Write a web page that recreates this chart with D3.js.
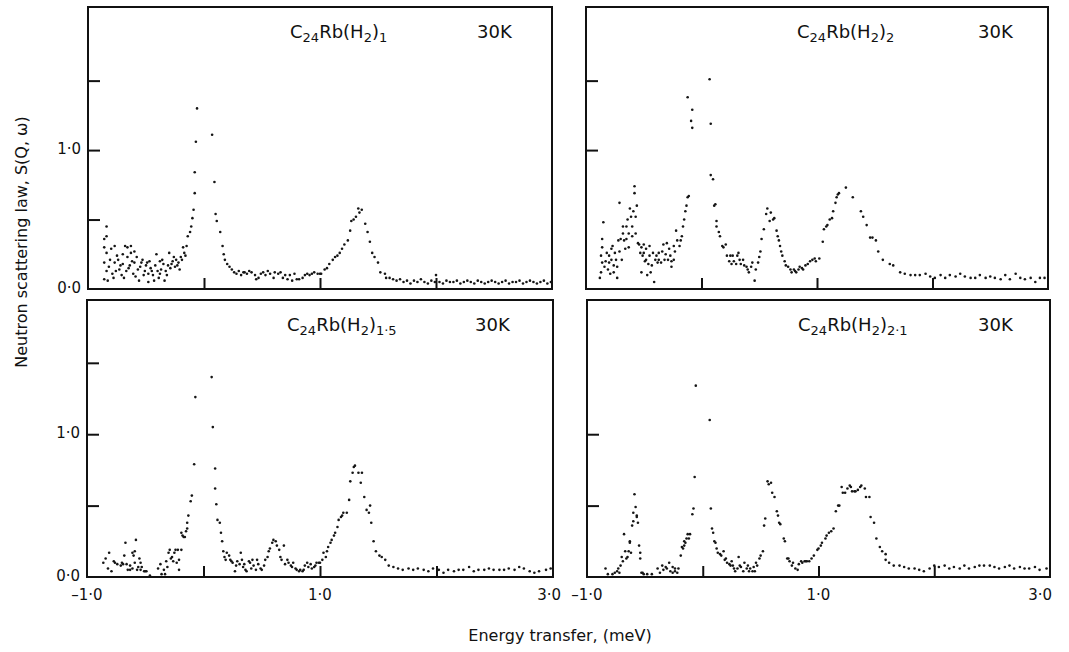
<!DOCTYPE html>
<meta charset="utf-8">
<style>
body { margin: 0; background: #fff; }
svg { display: block; font-family: "DejaVu Sans", "Liberation Sans", sans-serif; }
.frame { fill: none; stroke: #111; stroke-width: 2; }
.tick line { stroke: #111; stroke-width: 2; }
.domain { display: none; }
.dot { fill: #151515; }
.lab { font-size: 18px; fill: #111; }
.num { font-size: 15px; fill: #111; }
.title { font-size: 16px; fill: #111; }
</style>
<body>
<script src="https://d3js.org/d3.v7.min.js"></script>
<script>

// energy transfer (meV), S(Q,w)
var rb1 = [
 [-0.84,0.45],[-0.84,0.38],[-0.86,0.36],[-0.86,0.30],[-0.84,0.26],[-0.86,0.19],[-0.84,0.13],[-0.86,0.07],[-0.83,0.06],
 [-0.80,0.29],[-0.77,0.31],[-0.77,0.19],[-0.76,0.13],[-0.74,0.21],[-0.73,0.14],[-0.71,0.10],[-0.70,0.25],[-0.68,0.31],
 [-0.70,0.18],[-0.67,0.13],[-0.66,0.23],[-0.64,0.17],[-0.63,0.31],[-0.63,0.26],[-0.61,0.11],[-0.60,0.19],[-0.58,0.23],
 [-0.57,0.14],[-0.56,0.06],[-0.54,0.19],[-0.53,0.21],[-0.51,0.13],[-0.50,0.17],[-0.48,0.11],[-0.47,0.20],[-0.45,0.13],
 [-0.44,0.10],[-0.43,0.06],[-0.41,0.25],[-0.40,0.13],[-0.38,0.11],[-0.37,0.14],[-0.35,0.18],[-0.34,0.06],[-0.33,0.13],
 [-0.31,0.17],[-0.30,0.26],[-0.28,0.18],[-0.27,0.20],[-0.25,0.16],[-0.24,0.21],[-0.22,0.19],[-0.21,0.14],[-0.20,0.23],
 [-0.18,0.30],[-0.17,0.26],[-0.15,0.31],[-0.82,0.16],[-0.79,0.11],[-0.75,0.24],[-0.72,0.17],[-0.69,0.08],[-0.65,0.15],
 [-0.62,0.20],[-0.59,0.09],[-0.55,0.16],[-0.52,0.10],[-0.49,0.19],[-0.46,0.15],[-0.42,0.17],[-0.39,0.08],[-0.36,0.21],
 [-0.32,0.10],[-0.29,0.15],[-0.26,0.23],[-0.23,0.17],[-0.19,0.21],[-0.16,0.24],[-0.81,0.21],[-0.78,0.08],[-0.66,0.30],
 [-0.60,0.27],[-0.48,0.05],[-0.38,0.20],
 [-0.14,0.38],[-0.12,0.41],[-0.11,0.45],[-0.10,0.51],[-0.09,0.57],[-0.08,0.69],[-0.08,0.84],[-0.07,1.06],[-0.06,1.30],
 [0.07,1.11],[0.09,0.77],[0.10,0.54],[0.11,0.49],[0.14,0.41],[0.16,0.31],[0.17,0.25],[0.18,0.21],[0.20,0.18],[0.22,0.16],
 [0.24,0.14],[0.26,0.12],[0.28,0.11],[0.30,0.13],[0.32,0.10],[0.34,0.12],[0.35,0.12],[0.37,0.11],[0.39,0.13],[0.41,0.12],
 [0.44,0.10],[0.45,0.07],[0.47,0.08],[0.49,0.11],[0.51,0.12],[0.53,0.10],[0.55,0.13],[0.57,0.11],[0.60,0.08],[0.61,0.12],
 [0.64,0.11],[0.66,0.12],[0.68,0.08],[0.70,0.10],[0.72,0.07],[0.74,0.10],[0.76,0.06],[0.78,0.11],[0.80,0.07],[0.82,0.07],
 [0.85,0.08],[0.87,0.10],[0.89,0.11],[0.91,0.10],[0.93,0.11],[0.95,0.12],[0.98,0.11],[1.00,0.11],[1.01,0.11],[1.04,0.14],
 [1.06,0.15],[1.08,0.18],[1.11,0.21],[1.13,0.23],[1.15,0.24],[1.17,0.26],[1.19,0.29],[1.21,0.32],[1.24,0.35],[1.26,0.42],
 [1.27,0.49],[1.29,0.50],[1.31,0.52],[1.33,0.58],[1.34,0.55],[1.36,0.57],[1.39,0.47],[1.41,0.41],[1.43,0.34],[1.45,0.26],
 [1.47,0.23],[1.50,0.19],[1.52,0.12],[1.56,0.11],[1.57,0.08],[1.60,0.08],[1.63,0.07],[1.66,0.06],[1.69,0.07],
 [1.72,0.05],[1.75,0.06],[1.78,0.04],[1.81,0.06],[1.84,0.05],[1.87,0.07],[1.90,0.05],[1.93,0.04],[1.96,0.06],[1.99,0.05],
 [2.00,0.10],[2.03,0.05],[2.06,0.04],[2.09,0.06],[2.12,0.05],[2.15,0.05],[2.18,0.06],[2.21,0.04],[2.24,0.05],[2.27,0.06],
 [2.30,0.05],[2.33,0.04],[2.36,0.06],[2.39,0.05],[2.42,0.04],[2.45,0.05],[2.48,0.06],[2.51,0.05],[2.54,0.04],[2.57,0.05],
 [2.60,0.06],[2.63,0.04],[2.66,0.05],[2.69,0.05],[2.72,0.06],[2.75,0.04],[2.78,0.05],[2.81,0.06],[2.84,0.05],[2.87,0.04],
 [2.90,0.05],[2.93,0.06],[2.96,0.04],[2.99,0.05]
];

var rb2 = [
 [-0.88,0.08],[-0.87,0.12],[-0.86,0.19],[-0.87,0.24],[-0.86,0.30],[-0.86,0.36],[-0.85,0.48],[-0.84,0.16],[-0.83,0.20],
 [-0.82,0.26],[-0.81,0.14],[-0.80,0.19],[-0.80,0.24],[-0.79,0.11],[-0.78,0.29],[-0.78,0.21],[-0.77,0.31],[-0.76,0.17],
 [-0.76,0.12],[-0.75,0.26],[-0.74,0.21],[-0.73,0.16],[-0.73,0.08],[-0.72,0.35],[-0.71,0.62],[-0.71,0.27],[-0.70,0.36],
 [-0.69,0.21],[-0.68,0.40],[-0.68,0.45],[-0.67,0.35],[-0.66,0.29],[-0.65,0.45],[-0.65,0.36],[-0.64,0.50],[-0.63,0.30],
 [-0.63,0.40],[-0.62,0.58],[-0.61,0.52],[-0.60,0.38],[-0.60,0.45],[-0.59,0.56],[-0.58,0.69],[-0.58,0.74],[-0.57,0.52],
 [-0.57,0.40],[-0.56,0.60],[-0.55,0.33],[-0.54,0.32],[-0.53,0.26],[-0.52,0.12],[-0.52,0.30],[-0.51,0.24],[-0.50,0.32],
 [-0.50,0.26],[-0.49,0.20],[-0.48,0.21],[-0.48,0.29],[-0.47,0.10],[-0.46,0.18],[-0.45,0.31],[-0.45,0.24],[-0.44,0.12],
 [-0.43,0.17],[-0.42,0.26],[-0.41,0.05],[-0.40,0.21],[-0.39,0.24],[-0.38,0.19],[-0.37,0.21],[-0.37,0.26],[-0.35,0.19],
 [-0.34,0.27],[-0.33,0.32],[-0.32,0.21],[-0.31,0.25],[-0.30,0.33],[-0.29,0.21],[-0.28,0.29],[-0.27,0.24],[-0.26,0.20],
 [-0.26,0.16],[-0.24,0.31],[-0.24,0.21],[-0.23,0.27],[-0.22,0.42],[-0.21,0.35],[-0.19,0.31],[-0.18,0.35],[-0.17,0.38],
 [-0.16,0.45],[-0.15,0.50],[-0.14,0.56],[-0.13,0.60],[-0.12,0.66],[-0.11,0.67],
 [-0.12,1.38],[-0.09,1.21],[-0.08,1.16],[-0.08,1.29],[0.07,1.51],[0.08,1.19],[0.08,0.82],[0.10,0.79],[0.11,0.60],
 [0.12,0.61],[0.13,0.49],[0.13,0.45],[0.15,0.41],[0.16,0.38],[0.18,0.31],[0.19,0.30],[0.21,0.32],[0.22,0.24],[0.24,0.20],
 [0.25,0.24],[0.26,0.18],[0.27,0.24],[0.28,0.20],[0.30,0.18],[0.31,0.24],[0.32,0.26],[0.33,0.21],[0.34,0.18],[0.36,0.21],
 [0.37,0.17],[0.39,0.16],[0.40,0.14],[0.41,0.12],[0.43,0.16],[0.44,0.19],[0.46,0.06],[0.47,0.14],[0.49,0.19],[0.50,0.23],
 [0.51,0.27],[0.52,0.36],[0.54,0.43],[0.56,0.54],[0.57,0.58],[0.59,0.49],[0.60,0.55],[0.62,0.50],[0.63,0.51],[0.65,0.42],
 [0.66,0.38],[0.67,0.35],[0.68,0.31],[0.69,0.27],[0.70,0.24],[0.72,0.20],[0.73,0.17],[0.75,0.16],[0.77,0.14],[0.78,0.12],
 [0.80,0.14],[0.81,0.13],[0.82,0.12],[0.84,0.14],[0.85,0.16],[0.87,0.15],[0.88,0.14],[0.90,0.17],[0.92,0.18],[0.94,0.20],
 [0.96,0.21],[0.98,0.22],[0.99,0.20],[1.02,0.22],[1.05,0.34],[1.06,0.43],[1.08,0.45],[1.09,0.46],[1.11,0.50],[1.13,0.51],
 [1.14,0.56],[1.16,0.62],[1.17,0.66],[1.18,0.68],[1.19,0.69],[1.25,0.73],[1.31,0.66],[1.38,0.56],[1.40,0.52],[1.43,0.46],
 [1.46,0.37],[1.48,0.37],[1.51,0.35],[1.53,0.27],[1.57,0.21],[1.63,0.18],[1.66,0.17],[1.72,0.12],[1.76,0.11],[1.81,0.10],
 [1.85,0.10],[1.89,0.10],[1.94,0.11],[1.98,0.09],[2.02,0.08],[2.07,0.10],[2.11,0.08],[2.15,0.10],[2.20,0.09],[2.24,0.11],
 [2.28,0.09],[2.33,0.08],[2.37,0.08],[2.41,0.10],[2.46,0.08],[2.50,0.09],[2.54,0.08],[2.59,0.07],[2.63,0.10],[2.67,0.07],
 [2.72,0.11],[2.76,0.08],[2.80,0.07],[2.85,0.08],[2.89,0.05],[2.93,0.08],[2.97,0.08]
];

var rb15 = [
 [-0.86,0.10],[-0.84,0.13],[-0.82,0.06],[-0.81,0.17],[-0.79,0.04],[-0.77,0.11],[-0.76,0.10],[-0.74,0.09],[-0.71,0.08],
 [-0.70,0.10],[-0.69,0.09],[-0.68,0.15],[-0.67,0.24],[-0.66,0.09],[-0.65,0.05],[-0.63,0.05],[-0.63,0.08],[-0.61,0.06],
 [-0.61,0.17],[-0.60,0.15],[-0.59,0.18],[-0.59,0.10],[-0.58,0.26],[-0.57,0.05],[-0.56,0.07],[-0.55,0.13],[-0.54,0.10],
 [-0.54,0.05],[-0.53,0.07],[-0.51,0.04],[-0.50,0.04],[-0.49,0.04],[-0.46,0.01],[-0.39,0.06],[-0.37,0.09],[-0.36,0.02],
 [-0.34,0.05],[-0.33,0.02],[-0.32,0.11],[-0.31,0.07],[-0.30,0.17],[-0.29,0.19],[-0.28,0.13],[-0.27,0.14],[-0.26,0.11],
 [-0.25,0.17],[-0.24,0.19],[-0.23,0.10],[-0.22,0.19],[-0.21,0.05],[-0.21,0.12],[-0.19,0.19],[-0.19,0.31],[-0.18,0.29],
 [-0.17,0.28],[-0.16,0.28],[-0.15,0.32],[-0.14,0.34],[-0.14,0.38],[-0.13,0.43],[-0.11,0.53],[-0.10,0.57],[-0.08,0.79],
 [-0.07,1.26],
 [0.07,1.40],[0.08,1.05],[0.10,0.76],[0.10,0.62],[0.11,0.51],[0.12,0.40],[0.14,0.38],[0.15,0.31],[0.16,0.25],[0.17,0.18],
 [0.18,0.14],[0.19,0.12],[0.20,0.17],[0.22,0.15],[0.23,0.12],[0.24,0.11],[0.25,0.10],[0.27,0.04],[0.28,0.08],[0.29,0.11],
 [0.31,0.09],[0.32,0.17],[0.33,0.12],[0.34,0.07],[0.35,0.09],[0.36,0.05],[0.37,0.04],[0.39,0.11],[0.40,0.10],[0.41,0.06],
 [0.42,0.12],[0.43,0.08],[0.45,0.05],[0.46,0.12],[0.47,0.09],[0.49,0.06],[0.50,0.05],[0.52,0.08],[0.53,0.12],[0.55,0.14],
 [0.56,0.18],[0.57,0.20],[0.59,0.24],[0.60,0.26],[0.62,0.25],[0.63,0.22],[0.65,0.19],[0.66,0.14],[0.67,0.12],[0.69,0.22],
 [0.70,0.09],[0.72,0.12],[0.73,0.10],[0.75,0.08],[0.76,0.07],[0.77,0.10],[0.79,0.06],[0.80,0.05],[0.82,0.04],[0.83,0.05],
 [0.85,0.04],[0.86,0.05],[0.87,0.08],[0.89,0.10],[0.90,0.07],[0.92,0.09],[0.93,0.06],[0.95,0.07],[0.96,0.08],[0.97,0.10],
 [0.99,0.10],[1.00,0.10],[1.02,0.12],[1.03,0.17],[1.05,0.14],[1.06,0.18],[1.07,0.21],[1.09,0.24],[1.10,0.26],[1.12,0.29],
 [1.13,0.31],[1.15,0.35],[1.16,0.40],[1.18,0.42],[1.19,0.43],[1.20,0.45],[1.23,0.45],[1.25,0.54],[1.26,0.67],[1.28,0.73],
 [1.29,0.77],[1.30,0.78],[1.33,0.73],[1.35,0.66],[1.36,0.73],[1.38,0.56],[1.40,0.47],[1.42,0.45],[1.43,0.50],[1.44,0.38],
 [1.46,0.25],[1.48,0.18],[1.51,0.15],[1.53,0.14],[1.56,0.12],[1.59,0.08],[1.63,0.07],[1.67,0.06],[1.71,0.05],[1.76,0.06],
 [1.80,0.05],[1.84,0.06],[1.89,0.05],[1.93,0.04],[1.97,0.06],[2.02,0.05],[2.06,0.03],[2.10,0.05],[2.15,0.04],[2.19,0.05],
 [2.23,0.05],[2.28,0.07],[2.32,0.04],[2.36,0.05],[2.41,0.05],[2.45,0.06],[2.49,0.05],[2.54,0.05],[2.58,0.05],[2.62,0.06],
 [2.67,0.05],[2.71,0.07],[2.75,0.06],[2.80,0.04],[2.84,0.03],[2.88,0.04],[2.94,0.05],[2.98,0.06]
];

var rb21 = [
 [-0.84,0.06],[-0.82,0.02],[-0.78,0.02],[-0.76,0.03],[-0.74,0.04],[-0.73,0.06],[-0.72,0.03],[-0.71,0.08],[-0.70,0.14],
 [-0.69,0.11],[-0.68,0.30],[-0.67,0.18],[-0.66,0.13],[-0.65,0.14],[-0.64,0.18],[-0.63,0.25],[-0.63,0.24],[-0.62,0.17],
 [-0.61,0.36],[-0.60,0.39],[-0.60,0.45],[-0.59,0.58],[-0.58,0.49],[-0.57,0.43],[-0.57,0.42],[-0.56,0.38],[-0.55,0.22],
 [-0.54,0.17],[-0.54,0.13],[-0.53,0.03],[-0.52,0.03],[-0.51,0.02],[-0.48,0.02],[-0.44,0.02],[-0.39,0.06],[-0.37,0.03],
 [-0.35,0.08],[-0.34,0.05],[-0.32,0.07],[-0.31,0.06],[-0.29,0.10],[-0.28,0.04],[-0.26,0.07],[-0.26,0.03],[-0.24,0.06],
 [-0.24,0.04],[-0.22,0.03],[-0.21,0.06],[-0.19,0.15],[-0.18,0.21],[-0.17,0.20],[-0.16,0.22],[-0.16,0.25],[-0.15,0.24],
 [-0.14,0.27],[-0.13,0.30],[-0.12,0.27],[-0.11,0.30],[-0.09,0.44],[-0.08,0.48],[-0.07,0.70],[-0.06,1.34],
 [0.06,1.10],[0.07,0.48],[0.08,0.34],[0.09,0.31],[0.10,0.25],[0.11,0.24],[0.12,0.20],[0.13,0.17],[0.15,0.16],[0.16,0.15],
 [0.18,0.18],[0.19,0.12],[0.20,0.13],[0.21,0.10],[0.23,0.09],[0.24,0.08],[0.25,0.11],[0.26,0.08],[0.27,0.06],[0.28,0.04],
 [0.30,0.06],[0.31,0.14],[0.32,0.08],[0.33,0.07],[0.35,0.04],[0.36,0.10],[0.38,0.06],[0.39,0.08],[0.40,0.04],[0.41,0.06],
 [0.43,0.04],[0.44,0.07],[0.45,0.04],[0.46,0.10],[0.47,0.08],[0.49,0.13],[0.50,0.15],[0.52,0.18],[0.53,0.36],[0.54,0.41],
 [0.56,0.67],[0.57,0.65],[0.59,0.66],[0.60,0.59],[0.62,0.56],[0.64,0.46],[0.65,0.43],[0.66,0.38],[0.67,0.37],[0.70,0.27],
 [0.71,0.25],[0.73,0.13],[0.74,0.13],[0.75,0.11],[0.77,0.08],[0.78,0.10],[0.80,0.06],[0.82,0.05],[0.83,0.09],[0.85,0.11],
 [0.86,0.10],[0.88,0.11],[0.89,0.11],[0.90,0.11],[0.92,0.11],[0.94,0.13],[0.96,0.15],[0.99,0.19],[1.00,0.20],[1.02,0.22],
 [1.03,0.24],[1.06,0.27],[1.07,0.29],[1.09,0.31],[1.11,0.32],[1.13,0.34],[1.15,0.46],[1.17,0.50],[1.18,0.50],[1.20,0.63],
 [1.21,0.59],[1.23,0.59],[1.25,0.62],[1.27,0.64],[1.28,0.63],[1.29,0.60],[1.31,0.60],[1.32,0.60],[1.34,0.61],[1.36,0.63],
 [1.37,0.64],[1.40,0.62],[1.41,0.56],[1.44,0.56],[1.45,0.42],[1.48,0.38],[1.50,0.27],[1.53,0.21],[1.55,0.18],[1.58,0.16],
 [1.58,0.12],[1.61,0.10],[1.65,0.08],[1.70,0.08],[1.74,0.07],[1.78,0.06],[1.83,0.06],[1.87,0.05],[1.91,0.04],[1.96,0.06],
 [2.00,0.08],[2.04,0.07],[2.09,0.08],[2.13,0.06],[2.17,0.07],[2.22,0.06],[2.26,0.08],[2.30,0.06],[2.35,0.07],[2.39,0.08],
 [2.43,0.08],[2.48,0.08],[2.52,0.07],[2.56,0.06],[2.61,0.07],[2.65,0.08],[2.69,0.06],[2.74,0.07],[2.78,0.06],[2.82,0.06],
 [2.87,0.07],[2.91,0.05],[2.97,0.06]
];

var xTicks = [0, 1, 2];
var xLabels = [-1, 1, 3];
var yLabels = [0, 1];

var width = 1069, height = 652;
var svg = d3.select("body").append("svg")
    .attr("width", width)
    .attr("height", height);

var fmt = function(v) { return d3.format(".1f")(v).replace(".", "\u00b7").replace("\u2212", "\u2013"); };

var panels = [
  {data: rb1,  idx: "1",   box: [88, 552, 7, 289],   ymax: 2.03, yticks: [0.5, 1, 1.5], left: true,  bottom: false, cx: 202, kx: 389},
  {data: rb2,  idx: "2",   box: [586, 1048, 7, 289], ymax: 2.03, yticks: [1, 1.5],      left: false, bottom: false, cx: 211, kx: 392},
  {data: rb15, idx: "1\u00b75", box: [87, 553, 300, 577], ymax: 1.94, yticks: [0.5, 1, 1.5], left: true,  bottom: true, cx: 200, kx: 388},
  {data: rb21, idx: "2\u00b71", box: [587, 1050, 300, 577], ymax: 1.94, yticks: [0.5, 1], left: false, bottom: true, cx: 211, kx: 391}
];

panels.forEach(function(p) {
  var x = d3.scaleLinear().domain([-1, 3]).range([p.box[0], p.box[1]]);
  var y = d3.scaleLinear().domain([0, p.ymax]).range([p.box[3], p.box[2]]);
  var g = svg.append("g");

  g.selectAll(".dot")
    .data(p.data)
    .enter().append("circle")
      .attr("class", "dot")
      .attr("cx", function(d) { return x(d[0]); })
      .attr("cy", function(d) { return y(d[1]); })
      .attr("r", 1.3);

  // inward ticks
  g.append("g")
      .attr("transform", "translate(0," + p.box[3] + ")")
      .call(d3.axisBottom(x).tickValues(xTicks).tickSize(-11).tickFormat(""));
  g.append("g")
      .attr("transform", "translate(" + p.box[0] + ",0)")
      .call(d3.axisLeft(y).tickValues(p.yticks).tickSize(-12).tickFormat(""));

  g.append("rect")
      .attr("class", "frame")
      .attr("x", p.box[0]).attr("y", p.box[2])
      .attr("width", p.box[1] - p.box[0])
      .attr("height", p.box[3] - p.box[2]);

  if (p.left) {
    g.selectAll(".ylab")
      .data(yLabels)
      .enter().append("text")
        .attr("class", "num")
        .attr("x", p.box[0] - 7)
        .attr("y", function(d) { return y(d) + 4; })
        .attr("text-anchor", "end")
        .text(fmt);
  }

  if (p.bottom) {
    g.selectAll(".xlab")
      .data(xLabels)
      .enter().append("text")
        .attr("class", "num")
        .attr("x", function(d, i) {
          if (i == 2) return p.left ? x(d) + 8 : x(d) + 2;
          return x(d);
        })
        .attr("y", p.box[3] + 23)
        .attr("text-anchor", function(d, i) { return i == 2 ? "end" : "middle"; })
        .text(fmt);
  }

  // C24Rb(H2)n label
  var t = g.append("text")
      .attr("class", "lab")
      .attr("x", p.box[0] + p.cx)
      .attr("y", p.box[2] + 31);
  t.append("tspan").text("C");
  t.append("tspan").attr("dy", 4).attr("font-size", "13px").text("24");
  t.append("tspan").attr("dy", -4).text("Rb(H");
  t.append("tspan").attr("dy", 4).attr("font-size", "13px").text("2");
  t.append("tspan").attr("dy", -4).text(")");
  t.append("tspan").attr("dy", 4).attr("font-size", "13px").text(p.idx);

  g.append("text")
      .attr("class", "lab")
      .attr("x", p.box[0] + p.kx)
      .attr("y", p.box[2] + 31)
      .text("30K");
});

svg.append("text")
    .attr("class", "title")
    .attr("x", 560)
    .attr("y", 641)
    .attr("text-anchor", "middle")
    .text("Energy transfer, (meV)");

svg.append("text")
    .attr("class", "title")
    .attr("transform", "translate(27,242) rotate(-90)")
    .attr("text-anchor", "middle")
    .text("Neutron scattering law, S(Q, \u03c9)");

</script>
</body>
